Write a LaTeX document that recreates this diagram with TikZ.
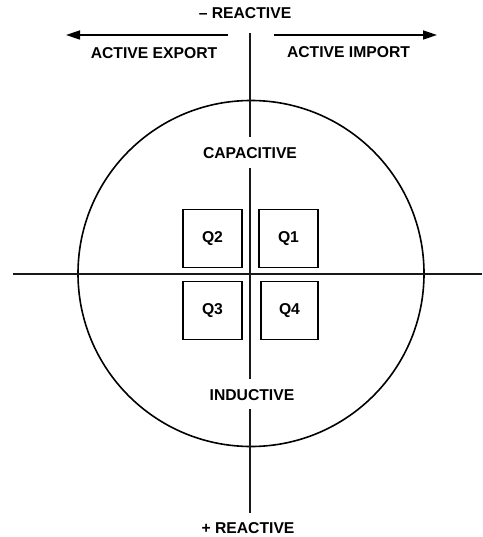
\documentclass[tikz,border=0pt]{standalone}
\usepackage{fontspec}
\setmainfont{Liberation Sans}
\usetikzlibrary{arrows.meta}
\begin{document}
\begin{tikzpicture}[x=1pt,y=-1pt,
  axis/.style={line width=1.6pt,draw=black!90},
  lbl/.style={font=\fontsize{15.7}{17}\selectfont\bfseries,inner sep=0pt},
  qbox/.style={draw,line width=1.8pt,minimum width=58pt,minimum height=58pt,inner sep=0pt,font=\fontsize{15.7}{17}\selectfont\bfseries},
  arr/.style={line width=1.7pt,-{Triangle[length=14pt,width=9pt]}}]
\useasboundingbox (0,0) rectangle (482,537);
% circle
\node[draw,line width=1.6pt,circle,minimum size=346pt,inner sep=0pt] (circ) at (251,273.5) {};
% labels
\node[lbl] (nreact) at (245,13) {– REACTIVE};
\node[lbl] (aexp) at (154,53) {ACTIVE EXPORT};
\node[lbl] (aimp) at (348.5,52) {ACTIVE IMPORT};
\node[lbl] (cap) at (250,153) {CAPACITIVE};
\node[lbl] (ind) at (252,395.5) {INDUCTIVE};
\node[lbl] (preact) at (248,528) {+ REACTIVE};
% coordinates
\coordinate (vt) at (250,33);
\coordinate (vc1) at (250,137);
\coordinate (vc2) at (250,168);
\coordinate (vi1) at (250,379);
\coordinate (vi2) at (250,409);
\coordinate (vb) at (250,513);
\coordinate (hl) at (13,274);
\coordinate (hr) at (482,274);
\coordinate (al0) at (228,35);
\coordinate (al1) at (66,35);
\coordinate (ar0) at (274,35);
\coordinate (ar1) at (437,35);
% axes
\draw[axis] (vt) -- (vc1);
\draw[axis] (vc2) -- (vi1);
\draw[axis] (vi2) -- (vb);
\draw[axis] (hl) -- (hr);
% arrows
\draw[arr] (al0) -- (al1);
\draw[arr] (ar0) -- (ar1);
% quadrant boxes
\node[qbox,minimum width=59pt] (q2) at (212.5,238.5) {Q2};
\node[qbox,minimum width=59pt] (q1) at (288.5,238.5) {Q1};
\node[qbox,minimum width=59pt] (q3) at (212.5,310.5) {Q3};
\node[qbox,minimum width=57pt] (q4) at (289.5,310.5) {Q4};
\end{tikzpicture}
\end{document}
